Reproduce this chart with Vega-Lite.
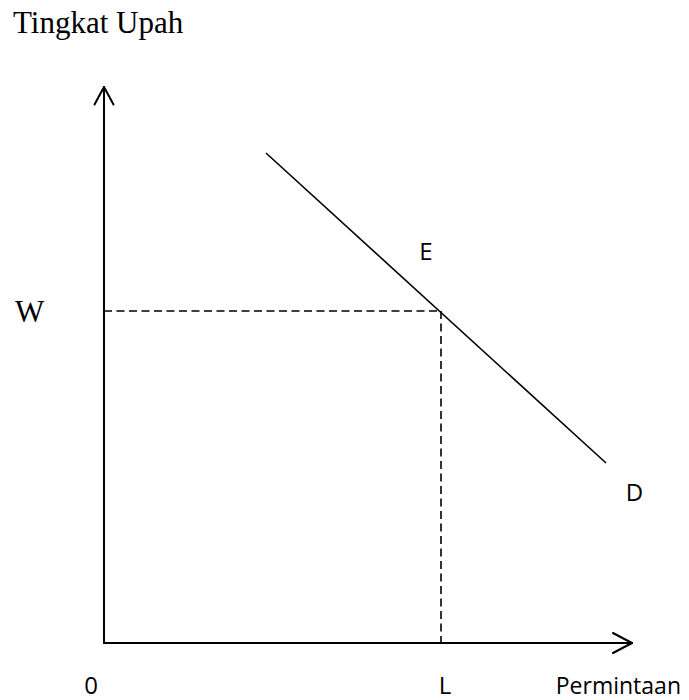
{
  "$schema": "https://vega.github.io/schema/vega-lite/v6.json",
  "width": 689,
  "height": 700,
  "padding": 0,
  "autosize": {"type": "fit", "contains": "padding"},
  "background": "white",
  "config": {"view": {"stroke": null}},
  "encoding": {
    "x": {"field": "x", "type": "quantitative", "scale": {"domain": [-104, 585], "nice": false, "zero": false}, "axis": null},
    "y": {"field": "y", "type": "quantitative", "scale": {"domain": [-57, 643], "nice": false, "zero": false}, "axis": null}
  },
  "layer": [
    {
      "data": {"values": [
        {"part": "y axis", "x": 0, "y": 0, "x2": 0, "y2": 556},
        {"part": "y arrow left", "x": -9.5, "y": 538.5, "x2": 0, "y2": 556},
        {"part": "y arrow right", "x": 9.5, "y": 538.5, "x2": 0, "y2": 556},
        {"part": "x axis", "x": 0, "y": 0, "x2": 528, "y2": 0},
        {"part": "x arrow top", "x": 509, "y": 10, "x2": 528, "y2": 0},
        {"part": "x arrow bottom", "x": 509, "y": -10, "x2": 528, "y2": 0}
      ]},
      "mark": {"type": "rule", "color": "black", "strokeWidth": 2, "strokeCap": "round"},
      "encoding": {"x2": {"field": "x2"}, "y2": {"field": "y2"}}
    },
    {
      "data": {"values": [
        {"part": "demand D", "x": 162, "y": 490, "x2": 502, "y2": 180}
      ]},
      "mark": {"type": "rule", "color": "black", "strokeWidth": 1.6},
      "encoding": {"x2": {"field": "x2"}, "y2": {"field": "y2"}}
    },
    {
      "data": {"values": [
        {"part": "W level", "x": 0, "y": 332, "x2": 337, "y2": 332},
        {"part": "L level", "x": 337, "y": 332, "x2": 337, "y2": 0}
      ]},
      "mark": {"type": "rule", "color": "black", "strokeWidth": 1.6, "strokeDash": [8, 4.5]},
      "encoding": {"x2": {"field": "x2"}, "y2": {"field": "y2"}}
    },
    {
      "data": {"values": [
        {"label": "Tingkat Upah", "x": -91, "y": 610},
        {"label": "W", "x": -89, "y": 321}
      ]},
      "mark": {"type": "text", "font": "Liberation Serif", "fontSize": 31, "align": "left", "baseline": "alphabetic", "color": "black"},
      "encoding": {"text": {"field": "label"}}
    },
    {
      "data": {"values": [
        {"label": "E", "x": 322, "y": 383},
        {"label": "D", "x": 530.5, "y": 142},
        {"label": "0", "x": -13, "y": -51},
        {"label": "L", "x": 341, "y": -51}
      ]},
      "mark": {"type": "text", "font": "Open Sans", "fontSize": 24, "align": "center", "baseline": "alphabetic", "color": "black"},
      "encoding": {"text": {"field": "label"}}
    },
    {
      "data": {"values": [
        {"label": "Permintaan", "x": 577, "y": -51}
      ]},
      "mark": {"type": "text", "font": "Open Sans", "fontSize": 23, "align": "right", "baseline": "alphabetic", "color": "black"},
      "encoding": {"text": {"field": "label"}}
    }
  ]
}
